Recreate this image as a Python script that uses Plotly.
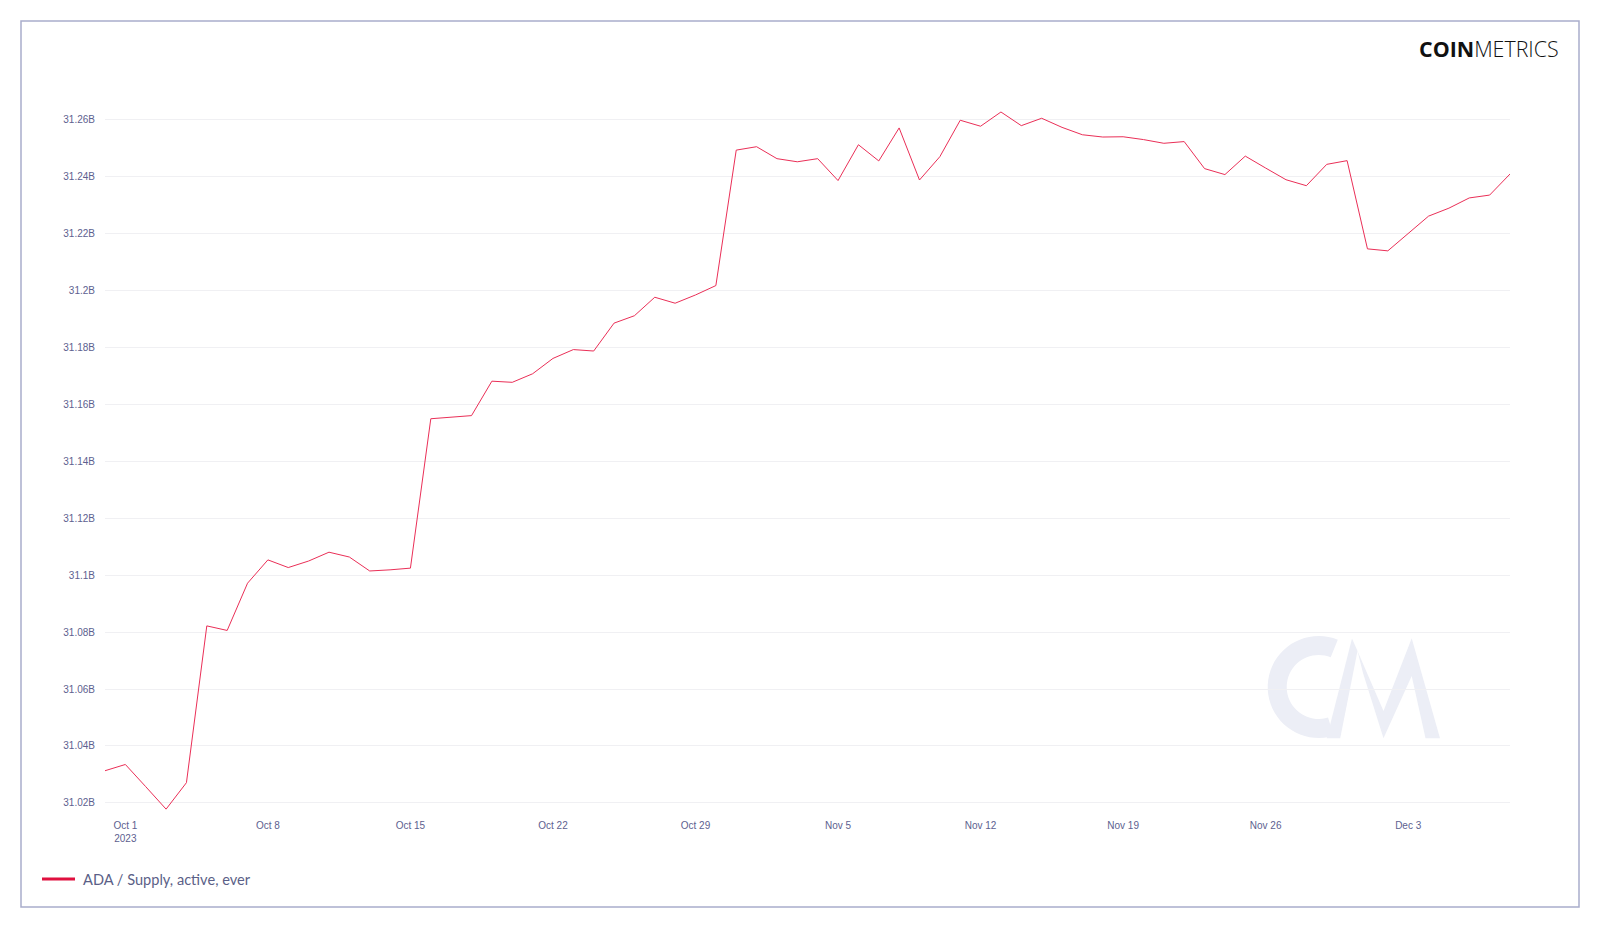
import math
import pandas as pd
import plotly.graph_objects as go

# ---------------- data ----------------
dates = pd.date_range("2023-09-30", "2023-12-08", freq="D")
supply_b = [
    31.0313,
    31.0335, 31.0257, 31.0178, 31.0271, 31.0822, 31.0806, 31.0972,
    31.1054, 31.1027, 31.1050, 31.1081, 31.1064, 31.1015, 31.1019,
    31.1025, 31.1550, 31.1556, 31.1561, 31.1682, 31.1678, 31.1708,
    31.1762, 31.1793, 31.1788, 31.1886, 31.1912, 31.1977, 31.1956,
    31.1985, 31.2018, 31.2494,
    31.2506, 31.2464, 31.2453, 31.2464, 31.2387, 31.2513, 31.2456,
    31.2572, 31.2389, 31.2471, 31.2599, 31.2578, 31.2628, 31.2580,
    31.2606, 31.2574, 31.2548, 31.2540, 31.2541, 31.2531, 31.2518,
    31.2524, 31.2429, 31.2408, 31.2473, 31.2431, 31.2390, 31.2369,
    31.2444, 31.2457,
    31.2147, 31.2140, 31.2202, 31.2262, 31.2290, 31.2326, 31.2336,
    31.2410,
]
series_name = "ADA / Supply, active, ever"

x_tick_vals = ["2023-10-01", "2023-10-08", "2023-10-15", "2023-10-22", "2023-10-29",
               "2023-11-05", "2023-11-12", "2023-11-19", "2023-11-26", "2023-12-03"]
x_tick_text = ["Oct 1<br>2023", "Oct 8", "Oct 15", "Oct 22", "Oct 29",
               "Nov 5", "Nov 12", "Nov 19", "Nov 26", "Dec 3"]
y_tick_vals = [31.02, 31.04, 31.06, 31.08, 31.10, 31.12, 31.14,
               31.16, 31.18, 31.20, 31.22, 31.24, 31.26]
y_tick_text = ["31.02B", "31.04B", "31.06B", "31.08B", "31.1B", "31.12B", "31.14B",
               "31.16B", "31.18B", "31.2B", "31.22B", "31.24B", "31.26B"]

# ---------------- layout geometry ----------------
W, H = 1600, 929
L, R, T, B = 105, 90, 110, 119
PW, PH = W - L - R, H - T - B


def px(x, y):
    """pixel position in the figure -> paper coordinates"""
    return (x - L) / PW, (H - B - y) / PH


def path_from(points):
    parts = []
    for i, (x, y) in enumerate(points):
        u, v = px(x, y)
        parts.append(("M" if i == 0 else "L") + f"{u:.5f},{v:.5f}")
    return " ".join(parts) + " Z"


TICK_COLOR = "#5d618f"
LINE_COLOR = "#ea2f57"
WM = "#eceef6"

fig = go.Figure()
fig.add_trace(go.Scatter(
    x=dates, y=supply_b, mode="lines", name=series_name,
    line=dict(color=LINE_COLOR, width=1), showlegend=False,
    hovertemplate="%{x|%b %d, %Y}<br>%{y:.4f}B<extra></extra>",
))

shapes = []
# outer frame
x0, y0 = px(21, 21)
x1, y1 = px(1579, 907)
shapes.append(dict(type="rect", xref="paper", yref="paper", x0=x0, y0=y0, x1=x1, y1=y1,
                   line=dict(color="#a9adcb", width=1.5), layer="below"))

# watermark "CM" logo
cx, cy, Ro, Ri = 1318.7, 687, 51, 32
a_start, a_end = 68, 287
steps = 40
c_pts = []
for k in range(steps + 1):
    a = math.radians(a_start + (a_end - a_start) * k / steps)
    c_pts.append((cx + Ro * math.cos(a), cy - Ro * math.sin(a)))
for k in range(steps, -1, -1):
    a = math.radians(a_start + (a_end - a_start) * k / steps)
    c_pts.append((cx + Ri * math.cos(a), cy - Ri * math.sin(a)))
shapes.append(dict(type="path", xref="paper", yref="paper", path=path_from(c_pts),
                   fillcolor=WM, line=dict(width=0), layer="below"))
slash = [(1326.7, 738.3), (1340.2, 738.3), (1357.5, 651), (1352, 638.5)]
shapes.append(dict(type="path", xref="paper", yref="paper", path=path_from(slash),
                   fillcolor=WM, line=dict(width=0), layer="below"))
m_pts = [(1357.5, 651), (1383.5, 711), (1411.7, 638.3), (1440, 738.3), (1425.5, 738.3),
         (1411.7, 676), (1383.5, 738.3), (1363, 673)]
shapes.append(dict(type="path", xref="paper", yref="paper", path=path_from(m_pts),
                   fillcolor=WM, line=dict(width=0), layer="below"))

# legend swatch
lx0, ly = px(42, 879)
lx1, _ = px(75, 879)
shapes.append(dict(type="line", xref="paper", yref="paper", x0=lx0, x1=lx1, y0=ly, y1=ly,
                   line=dict(color="#e0103f", width=3)))

annotations = []
ax, ay = px(81, 879)
annotations.append(dict(xref="paper", yref="paper", x=ax, y=ay, xanchor="left", yanchor="middle",
                        text=series_name, showarrow=False,
                        font=dict(family="Lato, 'Open Sans', sans-serif", size=14.6, color="#5b5f87")))
bx, by = px(1561, 49)
annotations.append(dict(xref="paper", yref="paper", x=bx, y=by, xanchor="right", yanchor="middle",
                        text="<b>COIN</b><span style='font-weight:300'>METRICS</span>",
                        showarrow=False,
                        font=dict(family="'Open Sans', Lato, sans-serif", size=21.4, color="#111111")))

fig.update_layout(
    width=W, height=H,
    margin=dict(l=L, r=R, t=T, b=B, pad=0),
    paper_bgcolor="white", plot_bgcolor="white",
    showlegend=False,
    shapes=shapes, annotations=annotations,
    font=dict(family="'Liberation Sans', Arial, sans-serif", size=10, color=TICK_COLOR),
    xaxis=dict(
        type="date", range=["2023-09-30", "2023-12-08"],
        tickvals=x_tick_vals, ticktext=x_tick_text,
        showgrid=False, zeroline=False, showline=False, ticks="",
        ticklabelstandoff=8,
        tickfont=dict(size=10, color=TICK_COLOR),
    ),
    yaxis=dict(
        range=[31.0175, 31.2635],
        tickvals=y_tick_vals, ticktext=y_tick_text,
        showgrid=True, gridcolor="#f0f0f3", gridwidth=1,
        zeroline=False, showline=False, ticks="",
        ticklabelstandoff=9,
        tickfont=dict(size=10, color=TICK_COLOR),
    ),
)

fig.write_html("out.html", config={"displayModeBar": False},
               post_script="document.body.style.margin='0';")
